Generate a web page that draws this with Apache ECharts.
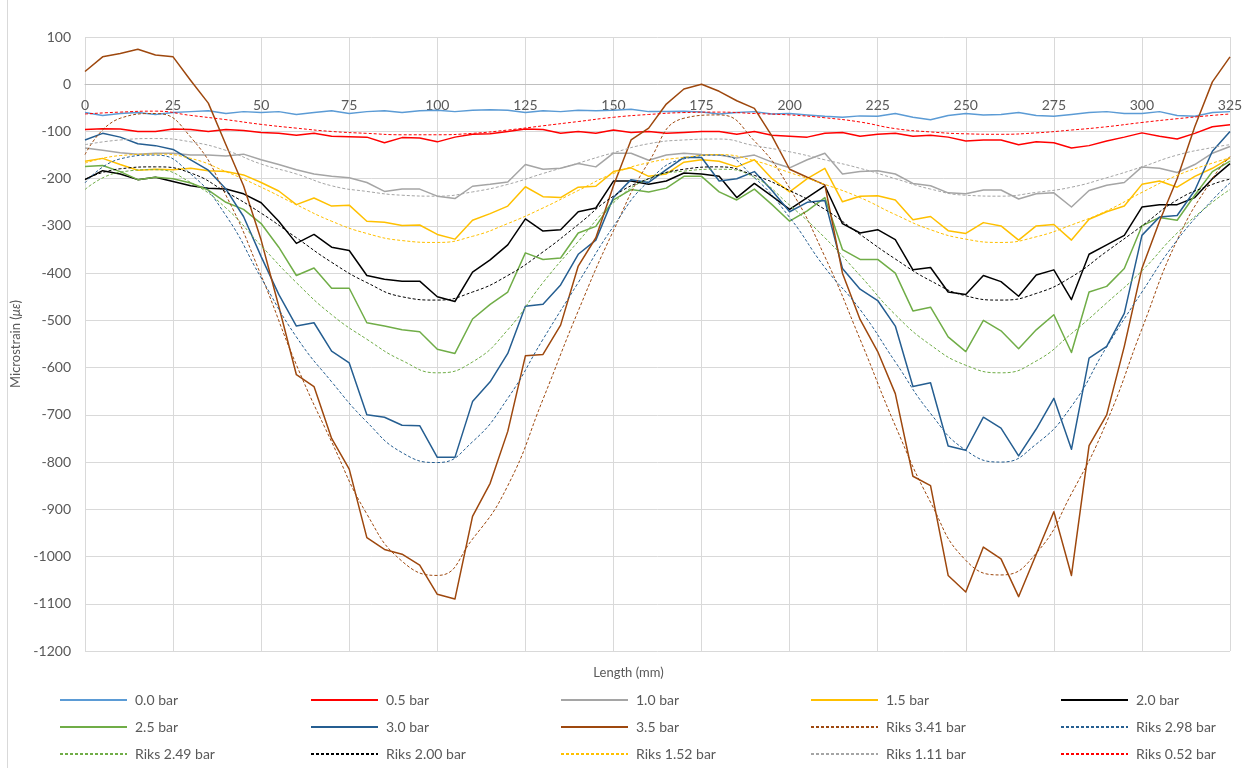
<!DOCTYPE html>
<html>
<head>
<meta charset="utf-8">
<script src="https://cdn.jsdelivr.net/npm/echarts@6/dist/echarts.min.js"></script>
<style>
  html, body { margin: 0; padding: 0; background: #ffffff; }
  #chart { width: 1257px; height: 768px; }
</style>
</head>
<body>
<div id="chart"></div>
<script>
// Sample positions along the specimen (mm) for the measured strain traces
const lengthMm = [0,5,10,15,20,25,30,35,40,45,50,55,60,65,70,75,80,85,90,95,100,105,110,115,120,125,130,135,140,145,150,155,160,165,170,175,180,185,190,195,200,205,210,215,220,225,230,235,240,245,250,255,260,265,270,275,280,285,290,295,300,305,310,315,320,325];

// Measured microstrain at each pressure
const bar00 = [-60,-66,-62,-60,-64,-60,-58,-56,-62,-58,-60,-58,-64,-60,-56,-62,-58,-56,-60,-56,-55,-58,-55,-54,-55,-60,-56,-58,-55,-56,-55,-53,-58,-58,-57,-59,-63,-60,-58,-63,-62,-65,-68,-70,-67,-68,-62,-70,-75,-66,-62,-65,-64,-60,-66,-68,-64,-60,-58,-62,-62,-58,-66,-68,-60,-58];
const bar05 = [-96,-94,-95,-100,-100,-95,-96,-100,-96,-98,-102,-104,-108,-104,-110,-111,-112,-124,-113,-114,-122,-112,-106,-105,-100,-95,-96,-104,-100,-104,-97,-102,-100,-104,-102,-100,-100,-106,-100,-108,-110,-112,-104,-102,-110,-106,-104,-110,-108,-112,-120,-118,-118,-128,-122,-124,-135,-130,-120,-112,-103,-110,-116,-104,-90,-86];
const bar10 = [-135,-140,-145,-148,-146,-146,-150,-150,-152,-148,-160,-170,-181,-190,-195,-198,-208,-227,-222,-222,-237,-242,-216,-212,-207,-170,-180,-178,-168,-175,-146,-146,-161,-150,-146,-149,-150,-156,-150,-165,-177,-160,-146,-190,-185,-183,-190,-210,-215,-230,-232,-224,-224,-243,-232,-230,-260,-225,-214,-208,-175,-178,-187,-170,-146,-132];
const bar15 = [-163,-157,-170,-182,-180,-181,-178,-183,-185,-192,-208,-226,-255,-241,-258,-256,-290,-292,-299,-298,-318,-328,-288,-274,-258,-217,-238,-240,-218,-216,-185,-177,-195,-190,-165,-160,-163,-175,-160,-200,-228,-200,-178,-249,-237,-236,-245,-287,-280,-310,-316,-293,-300,-330,-300,-297,-330,-286,-270,-258,-212,-205,-218,-195,-178,-156];
const bar20 = [-202,-183,-190,-202,-197,-206,-215,-220,-222,-232,-251,-290,-337,-318,-345,-352,-405,-413,-417,-417,-450,-460,-398,-372,-340,-285,-311,-308,-270,-262,-205,-205,-212,-205,-188,-190,-195,-240,-210,-237,-265,-240,-215,-295,-315,-308,-329,-393,-388,-440,-445,-405,-418,-449,-404,-393,-456,-360,-340,-320,-260,-255,-255,-240,-200,-168];
const bar25 = [-174,-172,-185,-202,-197,-200,-209,-224,-250,-265,-295,-345,-405,-389,-432,-432,-505,-512,-520,-524,-561,-570,-497,-466,-440,-357,-371,-368,-315,-301,-245,-223,-228,-220,-195,-195,-228,-245,-222,-255,-290,-268,-240,-350,-371,-371,-400,-480,-472,-535,-566,-500,-522,-560,-520,-488,-568,-440,-428,-390,-300,-282,-288,-235,-185,-163];
const bar30 = [-118,-104,-112,-126,-130,-138,-160,-182,-222,-280,-365,-445,-512,-505,-565,-590,-700,-705,-722,-723,-790,-790,-672,-630,-570,-470,-466,-425,-360,-330,-240,-202,-208,-181,-155,-155,-205,-200,-185,-225,-270,-250,-246,-390,-434,-458,-512,-640,-632,-766,-775,-705,-728,-787,-730,-665,-773,-580,-555,-485,-320,-281,-278,-225,-142,-100];
const bar35 = [27,58,65,74,62,58,8,-40,-128,-215,-330,-470,-615,-640,-750,-815,-960,-985,-995,-1018,-1080,-1090,-915,-845,-735,-575,-572,-510,-385,-325,-215,-118,-93,-42,-10,0,-15,-35,-51,-110,-180,-197,-213,-400,-498,-566,-655,-830,-850,-1040,-1075,-980,-1005,-1085,-995,-905,-1040,-765,-700,-555,-390,-290,-200,-90,5,58];

// Sample positions (mm) for the Riks analysis curves
const riksLengthMm = [0,10,20,30,40,50,60,70,80,90,100,110,120,130,140,150,160,170,180,190,200,210,220,230,240,250,260,270,280,290,300,310,320,325];

// Riks analysis microstrain at each pressure
const riks341 = [-149,-72,-62,-112,-235,-405,-594,-757,-910,-1010,-1040,-963,-850,-667,-480,-310,-165,-72,-65,-120,-220,-365,-540,-723,-885,-1008,-1039,-993,-867,-715,-518,-330,-200,-153];
const riks298 = [-209,-158,-150,-190,-278,-410,-535,-630,-715,-780,-801,-757,-665,-540,-420,-301,-205,-158,-150,-198,-282,-388,-477,-588,-697,-775,-800,-762,-682,-556,-440,-330,-245,-209];
const riks249 = [-223,-186,-181,-208,-262,-342,-420,-488,-540,-585,-611,-588,-520,-420,-333,-251,-200,-184,-180,-197,-256,-325,-405,-488,-552,-595,-611,-586,-528,-463,-395,-315,-250,-223];
const riks200 = [-201,-179,-175,-188,-228,-273,-325,-377,-420,-450,-457,-440,-405,-355,-297,-237,-200,-180,-175,-193,-225,-265,-318,-370,-416,-448,-457,-443,-408,-354,-300,-245,-212,-201];
const riks152 = [-167,-151,-148,-157,-185,-218,-255,-290,-316,-331,-335,-322,-295,-262,-225,-189,-166,-155,-149,-162,-187,-212,-240,-276,-308,-328,-335,-323,-298,-268,-229,-193,-167,-156];
const riks111 = [-128,-118,-115,-122,-140,-169,-190,-215,-227,-235,-237,-228,-212,-189,-167,-145,-126,-118,-116,-130,-143,-160,-178,-200,-222,-235,-237,-229,-218,-198,-175,-150,-134,-128];
const riks052 = [-63,-59,-57,-66,-75,-85,-93,-100,-104,-107,-107,-104,-97,-88,-79,-70,-64,-60,-59,-62,-65,-71,-80,-94,-101,-105,-106,-103,-97,-90,-81,-73,-66,-63];

// Axis ranges and ticks
const xMin = 0, xMax = 325, xTickStep = 25;
const yMin = -1200, yMax = 100, yTickStep = 100;

const FONT = 'Lato, "Open Sans", sans-serif';
const TEXT = '#595959';

const measured = [
  { name: '0.0 bar', values: bar00, color: '#5B9BD5' },
  { name: '0.5 bar', values: bar05, color: '#FF0000' },
  { name: '1.0 bar', values: bar10, color: '#A5A5A5' },
  { name: '1.5 bar', values: bar15, color: '#FFC000' },
  { name: '2.0 bar', values: bar20, color: '#000000' },
  { name: '2.5 bar', values: bar25, color: '#70AD47' },
  { name: '3.0 bar', values: bar30, color: '#255E91' },
  { name: '3.5 bar', values: bar35, color: '#9E480E' }
];
const riks = [
  { name: 'Riks 3.41 bar', values: riks341, color: '#9E480E' },
  { name: 'Riks 2.98 bar', values: riks298, color: '#255E91' },
  { name: 'Riks 2.49 bar', values: riks249, color: '#70AD47' },
  { name: 'Riks 2.00 bar', values: riks200, color: '#000000' },
  { name: 'Riks 1.52 bar', values: riks152, color: '#FFC000' },
  { name: 'Riks 1.11 bar', values: riks111, color: '#A5A5A5' },
  { name: 'Riks 0.52 bar', values: riks052, color: '#FF0000' }
];

const series = [];
measured.forEach(s => {
  series.push({
    name: s.name, type: 'line', symbol: 'none', showSymbol: false,
    data: lengthMm.map((x, i) => [x, s.values[i]]),
    lineStyle: { color: s.color, width: 1.5, join: 'round' },
    itemStyle: { color: s.color },
    emphasis: { disabled: true }, animation: false
  });
});
riks.forEach(s => {
  series.push({
    name: s.name, type: 'line', symbol: 'none', showSymbol: false, smooth: 0.5,
    data: riksLengthMm.map((x, i) => [x, s.values[i]]),
    lineStyle: { color: s.color, width: 1, type: [3, 2] },
    itemStyle: { color: s.color },
    emphasis: { disabled: true }, animation: false
  });
});

// Plot area
const GRID = { left: 85, right: 27, top: 37, bottom: 117 };
const plotHeight = 768 - GRID.top - GRID.bottom;
// The length axis runs along the zero-strain line
const xAxisOffset = -plotHeight * (0 - yMin) / (yMax - yMin);

// Legend: 3 rows x 5 columns, one component per entry
const legendCols = [59, 310, 560, 810, 1060];
const legendRows = [701, 728, 755];
const legends = series.map((s, i) => ({
  data: [s.name],
  left: legendCols[i % 5],
  top: legendRows[Math.floor(i / 5)] - 8,
  padding: 0,
  itemWidth: 67,
  itemHeight: 16,
  itemGap: 0,
  selectedMode: false,
  itemStyle: { opacity: 0 },
  textStyle: { fontFamily: FONT, fontSize: 14, color: TEXT, padding: [0, 0, 0, 3] }
}));

const option = {
  backgroundColor: '#ffffff',
  animation: false,
  grid: Object.assign({ containLabel: false }, GRID),
  xAxis: {
    type: 'value', min: xMin, max: xMax, interval: xTickStep,
    position: 'bottom', offset: xAxisOffset,
    axisLine: { show: true, onZero: false, lineStyle: { color: '#BFBFBF', width: 1 } },
    axisTick: { show: false },
    axisLabel: { margin: 14, color: TEXT, fontFamily: FONT, fontSize: 14, showMinLabel: true, showMaxLabel: true },
    splitLine: { show: true, lineStyle: { color: '#D9D9D9', width: 1 } }
  },
  yAxis: {
    type: 'value', min: yMin, max: yMax, interval: yTickStep,
    name: 'Microstrain ({i|με})',
    nameLocation: 'middle', nameGap: 62, nameRotate: 90,
    nameTextStyle: {
      fontFamily: FONT, fontSize: 13, color: TEXT,
      rich: { i: { fontFamily: FONT, fontSize: 13, color: TEXT, fontStyle: 'italic' } }
    },
    axisLine: { show: false, onZero: false },
    axisTick: { show: false },
    axisLabel: { margin: 14, color: TEXT, fontFamily: FONT, fontSize: 14, formatter: v => String(v) },
    splitLine: { show: true, lineStyle: { color: '#D9D9D9', width: 1 } }
  },
  legend: legends,
  graphic: [
    { type: 'text', left: 'center', top: 666,
      style: { text: 'Length (mm)', fontFamily: FONT, fontSize: 13, fill: TEXT }, silent: true },
    { type: 'line', shape: { x1: 7.5, y1: 0, x2: 7.5, y2: 768 },
      style: { stroke: '#D9D9D9', lineWidth: 1 }, silent: true }
  ],
  series: series
};

const chart = echarts.init(document.getElementById('chart'), null, { renderer: 'canvas' });
chart.setOption(option);
</script>
</body>
</html>
